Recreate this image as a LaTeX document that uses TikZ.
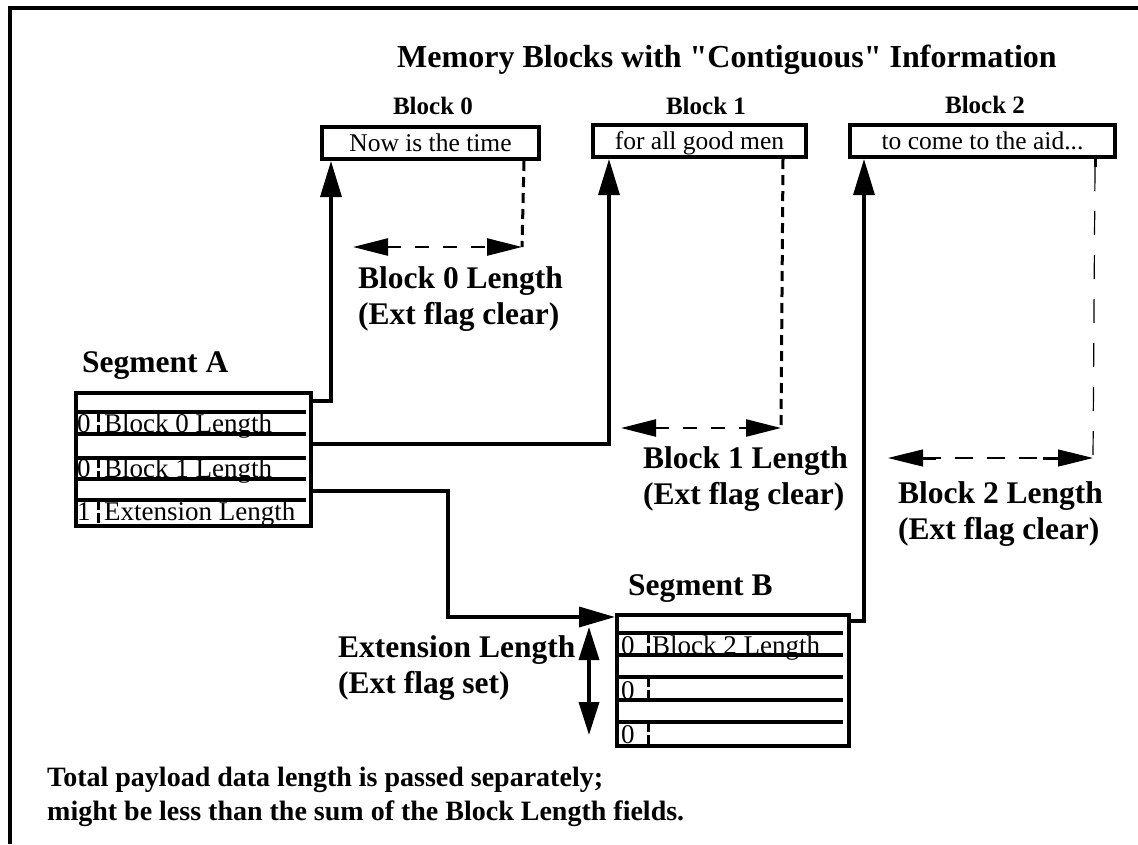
\documentclass[tikz,border=0pt]{standalone}
\usepackage{fontspec}
\setmainfont{Liberation Serif}
\usetikzlibrary{arrows.meta}
\newcommand\straightquote{\XeTeXglyph\XeTeXcharglyph34\relax}
\begin{document}
\begin{tikzpicture}[x=1pt,y=-1pt,
  bigb/.style={font=\fontsize{31.5}{36}\selectfont\bfseries, inner sep=0pt},
  notef/.style={font=\fontsize{28}{34}\selectfont\bfseries, inner sep=0pt},
  titlef/.style={font=\fontsize{32}{36}\selectfont\bfseries, inner sep=0pt},
  hdr/.style={font=\fontsize{25}{28}\selectfont\bfseries, inner sep=0pt},
  txt/.style={font=\fontsize{27}{30}\selectfont, inner sep=0pt},
  blk/.style={draw, line width=4pt, minimum height=32pt, inner sep=0pt,
     text height=18pt, text depth=2pt, font=\fontsize{25.5}{28}\selectfont},
  seg/.style={draw, line width=4pt, anchor=north west, inner sep=0pt},
  rowline/.style={line width=3.5pt},
  divider/.style={line width=3pt, dash pattern=on 10pt off 3pt},
  conn/.style={line width=3.5pt},
  uptip/.style={-{Triangle[length=36pt,width=21pt]}},
  measure/.style={line width=3pt, dash pattern=on 10pt off 6pt},
  measurearrow/.style={line width=2.5pt, dash pattern=on 14pt off 14pt,
     {Triangle[length=35pt,width=17pt]}-{Triangle[length=35pt,width=17pt]}},
  thinmeasure/.style={line width=1.2pt, dash pattern=on 24pt off 20pt},
  thinarrow/.style={line width=1.2pt, dash pattern=on 18pt off 14pt,
     {Triangle[length=35pt,width=17pt]}-{Triangle[length=35pt,width=17pt]}},
  dbl/.style={line width=3.5pt, {Triangle[length=33pt,width=20pt]}-{Triangle[length=33pt,width=20pt]}}
]
\useasboundingbox (0,0) rectangle (1138,844);
% frame
\draw[line width=3.5pt] (1138,8) -- (10,8) -- (10,844);

% title
\node[titlef, anchor=base] (title) at (727,67) {Memory Blocks with \straightquote Contiguous\straightquote{} Information};

% block headers
\node[hdr, anchor=north] (h0) at (433,97) {Block 0};
\node[hdr, anchor=north] (h1) at (706,97) {Block 1};
\node[hdr, anchor=north] (h2) at (985,96) {Block 2};

% block boxes
\node[blk, minimum width=217pt] (b0) at (430.5,143) {Now is the time};
\node[blk, minimum width=213pt] (b1) at (699.5,141) {for all good men};
\node[blk, minimum width=265pt] (b2) at (982.5,141) {to come to the aid...};

% Segment A
\node[bigb, anchor=north west] (segAlabel) at (82,351) {Segment A};
\node[seg, minimum width=235pt, minimum height=133pt] (segA) at (74,391) {};
\foreach \yy in {412,434,458,479,500} \draw[rowline] (74,\yy) -- (306,\yy);
\draw[divider] (98,412) -- (98,434);
\draw[divider] (98,458) -- (98,479);
\draw[divider] (98,500) -- (98,524);
\node[txt, anchor=base west] (a0f) at (77,432) {0};
\node[txt, anchor=base west] (a0t) at (104,432) {Block 0 Length};
\node[txt, anchor=base west] (a1f) at (77,477) {0};
\node[txt, anchor=base west] (a1t) at (104,477) {Block 1 Length};
\node[txt, anchor=base west] (a2f) at (77,520) {1};
\node[txt, anchor=base west] (a2t) at (104,520) {Extension Length};

% Segment B
\node[bigb, anchor=north west] (segBlabel) at (628,574) {Segment B};
\node[seg, minimum width=232pt, minimum height=131pt] (segB) at (615,613) {};
\foreach \yy in {633,655,677,700,722} \draw[rowline] (615,\yy) -- (843,\yy);
\draw[divider] (648,633) -- (648,655);
\draw[divider] (648,677) -- (648,700);
\draw[divider] (648,722) -- (648,744);
\node[txt, anchor=base west] (bb0f) at (621,654) {0};
\node[txt, anchor=base west] (bb0t) at (652,654) {Block 2 Length};
\node[txt, anchor=base west] (bb1f) at (621,699) {0};
\node[txt, anchor=base west] (bb2f) at (621,743) {0};

% pointer connectors
\coordinate (pA0) at (309,401);
\coordinate (pA1) at (309,444);
\coordinate (pA2) at (309,491);
\coordinate (pB0) at (847,621);
\coordinate (bend) at (448,617);
\draw[conn, uptip] (pA0) -| ([xshift=11pt]b0.south west);
\draw[conn, uptip] (pA1) -| ([xshift=18pt]b1.south west);
\draw[conn, -{Triangle[length=36pt,width=20pt]}] (pA2) -| (bend) -- (segB.west |- bend);
\draw[conn, uptip] (pB0) -| ([xshift=16pt]b2.south west);

% block length measures
\coordinate (m0) at (522,247);
\coordinate (e0) at (353,247);
\draw[measure] ([xshift=-17pt]b0.south east) -- (m0);
\draw[measurearrow] (e0) -- (m0);
\node[bigb, anchor=north west, align=left] (l0) at (358,266) {Block 0 Length\\(Ext flag clear)};

\coordinate (m1) at (781,428);
\coordinate (e1) at (621,428);
\draw[measure] ([xshift=-25pt]b1.south east) -- (m1);
\draw[measurearrow] (e1) -- (m1);
\node[bigb, anchor=north west, align=left] (l1) at (643,446) {Block 1 Length\\(Ext flag clear)};

\coordinate (m2) at (1093,458);
\coordinate (e2) at (888,458);
\draw[line width=3pt] ([xshift=-22pt]b2.south east) -- ++(0,8);
\draw[thinmeasure] ([xshift=-22pt,yshift=-8pt]b2.south east) -- (m2);
\draw[thinarrow] (e2) -- (m2);
\draw[line width=3pt] ([xshift=30pt]e2) -- ([xshift=48pt]e2);
\draw[line width=3pt] ([xshift=-30pt]m2) -- ([xshift=-50pt]m2);
\node[bigb, anchor=north west, align=left] (l2) at (898,481) {Block 2 Length\\(Ext flag clear)};

% extension length
\coordinate (x1) at (589,627);
\coordinate (x2) at (589,735);
\draw[dbl] (x2) -- (x1);
\node[bigb, anchor=north west, align=left] (lx) at (338,635) {Extension Length\\(Ext flag set)};

% note
\node[notef, anchor=north west, align=left] (note) at (47,767) {Total payload data length is passed separately;\\might be less than the sum of the Block Length fields.};
\end{tikzpicture}
\end{document}
